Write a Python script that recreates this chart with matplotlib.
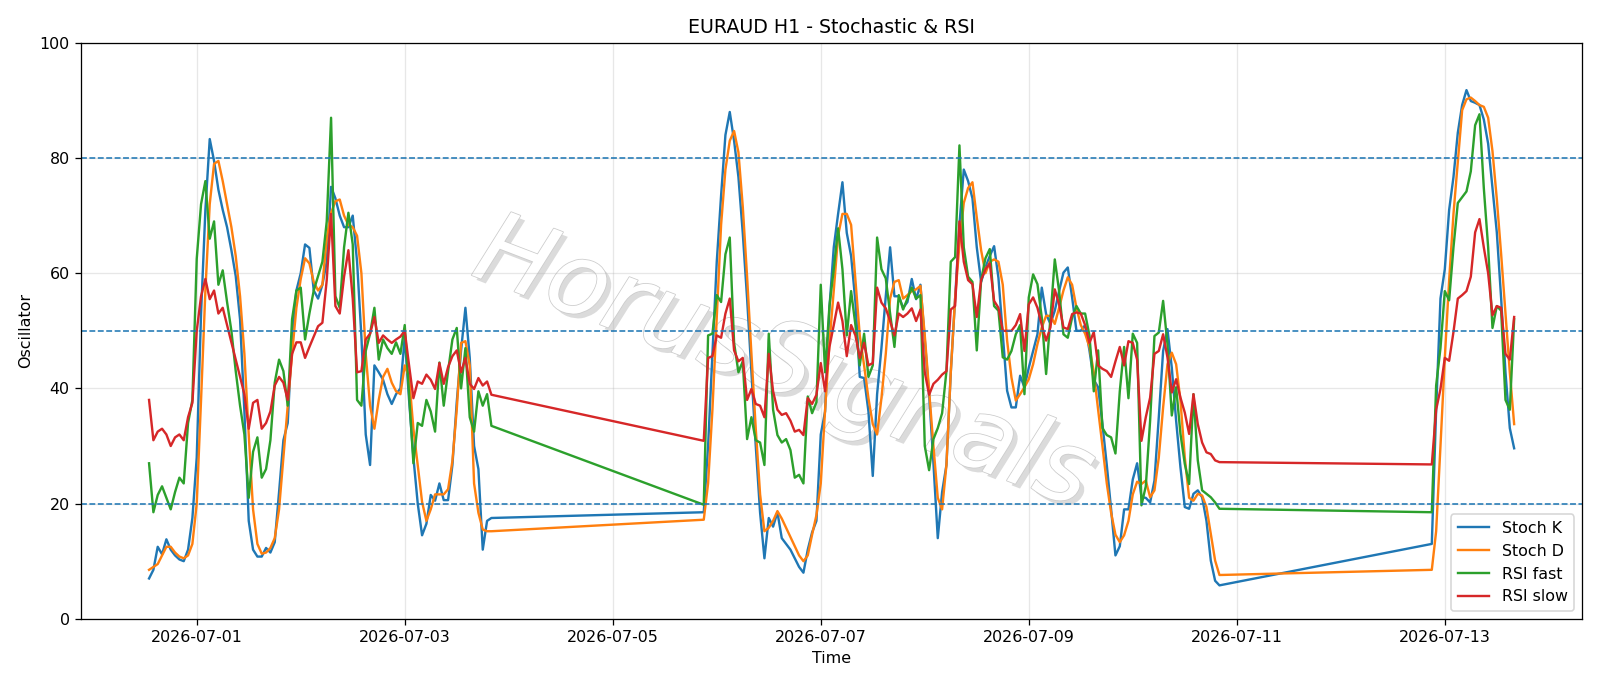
import matplotlib
matplotlib.use("Agg")
import numpy as np
import pandas as pd
import matplotlib.pyplot as plt
import matplotlib.dates as mdates
import matplotlib.patheffects as pe

# hourly bars, three trading blocks (weekend gaps in between)
times = (pd.date_range("2026-06-30 13:00", periods=80, freq="h")
         .append(pd.date_range("2026-07-05 21:00", periods=120, freq="h"))
         .append(pd.date_range("2026-07-12 21:00", periods=20, freq="h")))

stoch_k = [
    # block 1
    7, 8.5, 12.5, 11.2, 13.8, 12, 11, 10.3, 10, 12, 17.5,
    28, 53, 71, 83.3, 79.5, 74.5, 71, 68, 64, 59.5,
    52, 36, 17, 12, 10.8, 10.8, 12.3, 11.5, 13.3, 22,
    31, 34, 49, 57, 60, 65, 64.4, 57, 55.6, 58,
    62, 75, 73, 70, 68, 68, 70, 62, 49, 32,
    26.7, 44, 42.8, 41.5, 39, 37.3, 39, 40, 49, 38,
    28, 20, 14.5, 16.5, 21.5, 20.5, 23.5, 20.6, 20.6, 26.7,
    37.6, 46.6, 54, 45.3, 30, 26, 12, 17, 17.5,
    # block 2
    18.5, 30, 46, 62, 73.5, 84, 88, 83, 76.7, 67,
    55.6, 42.8, 30, 18.4, 10.5, 17.5, 16, 18.5, 14, 13,
    12, 10.5, 9, 8, 12, 15, 17, 32, 36, 54,
    64.5, 70.3, 75.8, 67, 63, 55, 42, 41.8, 36, 24.8,
    39, 47, 56, 64.5, 56, 56, 54, 55, 59, 55.5,
    58, 48.5, 39, 27, 14, 22, 26.7, 42.8, 55.6, 68.4,
    78, 76, 73, 64.5, 58.5, 61, 63, 64.7, 59.2, 49.4,
    39.6, 36.7, 36.7, 42.2, 40.2, 43.6, 46.5, 49.4, 57.5, 52.9,
    51.2, 53.5, 56.9, 60.1, 61, 55.8, 50, 50, 51, 46.6,
    41.5, 40.2, 33.8, 26.7, 19, 11, 12.6, 19, 19, 24.2,
    27, 21.1, 21, 20.2, 24, 35, 46.5, 50.3, 43.6, 34.4,
    26.3, 19.4, 19.1, 21.7, 22.3, 21.1, 17, 10.1, 6.6, 5.8,
    # block 3
    13, 36.3, 55.6, 60.7, 71, 76.7, 84.4, 89.2, 91.8, 89.9,
    89.6, 89.2, 86.7, 82.5, 74.8, 67.1, 55.6, 42.8, 33.1, 29.6,
]

stoch_d = [
    8.5, 9, 9.5, 11, 12.5, 12.5, 11.5, 10.8, 10.5, 11, 13,
    20, 38, 57, 72, 79, 79.5, 76, 72, 68, 63,
    56, 46, 32, 19, 13, 11.3, 11.5, 12.3, 14, 19,
    28, 37, 46, 54, 59, 62.6, 61.7, 58.5, 57, 58,
    66, 70.5, 72.5, 72.8, 70, 68.4, 68, 66.5, 60, 46,
    37, 33, 38, 42, 43.4, 41, 39.5, 39, 44, 42,
    33, 26.7, 20.3, 17, 19, 21.6, 21.6, 21.6, 22.5, 27.4,
    36.3, 47.9, 48.2, 44, 23.5, 18.4, 15.5, 15.2, 15.2,
    17.2, 23.5, 36.3, 52.4, 68.4, 78, 83, 84.7, 81, 71.6,
    59.4, 46, 33, 21.6, 15.2, 15.8, 17, 18.7, 17.4, 15.8,
    14.2, 12.6, 11, 10, 11, 14.6, 18, 23.5, 36.3, 47.9,
    57, 66.5, 70.3, 70.3, 68.4, 58.8, 49.2, 44, 38.3, 33.8,
    32, 38.3, 46, 55.6, 58.5, 58.8, 55.6, 56.2, 56.9, 57.2,
    57.8, 49.2, 39.5, 30, 21, 19, 26.7, 42.8, 55.6, 65,
    72.2, 74.8, 75.8, 69.7, 64, 60, 62, 62.4, 62, 58,
    48.3, 41.9, 37.9, 39, 40.2, 41.6, 44.2, 47.7, 50.6, 52.6,
    52.6, 51.2, 54, 57, 59.3, 58, 54, 51, 49.5, 47.2,
    42.8, 36.3, 30, 23.5, 18.4, 14.6, 13.3, 14.5, 17, 21.6,
    23.8, 23.4, 24, 21.1, 22.3, 28, 36.7, 44.2, 46.2, 44.2,
    37.9, 28, 21, 20.5, 21.7, 21.4, 19.4, 14.7, 10.1, 7.6,
    8.5, 15.2, 30, 45.3, 58.8, 70.3, 79.3, 88.3, 90.2, 90.5,
    89.9, 89.2, 88.9, 87, 81.2, 72.9, 63.3, 53, 42.8, 33.8,
]

rsi_fast = [
    27, 18.5, 21.5, 23, 21, 19, 22, 24.5, 23.5, 34, 38,
    62.5, 72, 76, 66, 69, 58, 60.5, 55, 50, 43,
    37, 32, 21, 29, 31.5, 24.5, 26, 31, 41, 45,
    43, 37, 52, 57, 57.5, 48.5, 53, 57, 59.5, 62,
    69, 87, 56, 54, 64.5, 70.5, 65, 38, 37, 46.5,
    49.5, 54, 45, 48.5, 47, 46, 48, 46, 51, 39,
    27, 34, 33.5, 38, 36, 32.5, 44.5, 37, 43, 48.5,
    50.5, 40, 47, 35, 32.5, 39.5, 37, 39, 33.5,
    19.8, 49.2, 49.5, 56.2, 55, 63.3, 66.2, 47.9, 42.8, 44.7,
    31.2, 35, 31, 30.6, 26.7, 49.5, 36.3, 31.9, 30.6, 31.2,
    29.3, 24.5, 25, 23.5, 38.6, 35.7, 37.6, 58, 42.8, 54.3,
    60.7, 67.8, 60.7, 49.2, 56.9, 51, 44, 49.5, 42, 44,
    66.2, 60.7, 59.1, 53, 47.2, 56.2, 53.7, 55.6, 57.5, 55.6,
    56.2, 30, 25.8, 31.2, 33.1, 35.7, 43, 62, 62.8, 82.2,
    64.5, 59.4, 58.5, 46.6, 58.8, 62.6, 64.2, 54.3, 53.5, 45.4,
    45, 46.5, 49.4, 51, 39, 55.8, 59.8, 58.1, 52.3, 42.5,
    52.3, 62.4, 56.9, 49.4, 48.8, 52.3, 54.3, 53, 53, 49.2,
    39.5, 46.6, 33.1, 31.9, 31.5, 28.7, 39.5, 47.2, 38.3, 49.5,
    47.9, 19.7, 23, 34.4, 49.1, 49.7, 55.2, 47.7, 35.3, 40.2,
    32.1, 26.9, 23.4, 39, 27.5, 22.3, 21.7, 21.1, 20.2, 19.1,
    18.5, 40.5, 47, 56.9, 55.3, 64.5, 72.2, 73.2, 74.2, 77.7,
    85.7, 87.6, 74.8, 64.5, 50.5, 54.3, 53.5, 38, 36.3, 52,
]

rsi_slow = [
    38, 31, 32.5, 33, 32, 30, 31.5, 32, 31, 35, 37.5,
    50, 56, 59, 55.5, 57, 53, 54, 51, 48, 45,
    42, 39, 33, 37.5, 38, 33, 34, 36, 40.5, 42,
    41, 38, 46, 48, 48, 45.3, 47.2, 49, 50.8, 51.4,
    58.8, 70.3, 54.3, 53, 59.4, 64, 55.6, 42.8, 43, 48.5,
    49.5, 52.4, 47.9, 49.2, 48.5, 47.9, 48.5, 49, 50, 44,
    38.3, 41.2, 40.8, 42.4, 41.5, 39.9, 44.4, 40.8, 43.7, 45.6,
    46.6, 42.8, 45.3, 40.8, 39.9, 41.8, 40.5, 41.2, 38.9,
    30.9, 45.3, 45.6, 49.2, 48.8, 53, 55.6, 46.6, 44.7, 45.3,
    38, 39.9, 37.3, 37, 35, 46, 39.5, 36.3, 35.4, 35.7,
    34.4, 32.5, 32.8, 31.9, 38.3, 37.3, 38.9, 44.4, 39.5, 47.2,
    51, 54.9, 51.7, 45.6, 51, 49.2, 45.3, 47.9, 44, 44.4,
    57.5, 54.9, 53.9, 51.7, 49.2, 53, 52.4, 53, 53.9, 51.7,
    53.7, 42.8, 38.9, 40.8, 41.5, 42.4, 43, 53.7, 54.3, 69,
    62, 58.8, 58.1, 52.4, 58.8, 60.7, 61.7, 55.2, 54, 50,
    50, 50, 51, 52.9, 46.5, 54.6, 55.8, 54, 51, 48.3,
    50.6, 57.2, 54.6, 50.6, 50.3, 52.9, 53.2, 53, 51, 47.9,
    49.8, 44, 43.4, 43, 42, 44.7, 47.2, 44, 48.2, 47.9,
    45, 30.9, 35, 38.4, 46, 46.5, 49.4, 45.4, 39.3, 41.6,
    38.4, 35.8, 32.1, 39, 33.8, 30.6, 28.9, 28.6, 27.5, 27.2,
    26.8, 36.3, 39.9, 45.3, 44.8, 49.8, 55.6, 56.2, 56.9, 59.4,
    67.1, 69.4, 64.5, 60, 52.7, 54.3, 54, 46, 45, 52.4,
]

levels = [20, 50, 80]

fig, ax = plt.subplots(figsize=(14, 6.0025), dpi=1600 / 14)
fig.subplots_adjust(left=0.0505, right=0.989, top=0.9375, bottom=0.098)

# watermark behind the lines
ax.text(0.468, 0.44, "HorusSignals", transform=ax.transAxes, fontsize=63,
        rotation=-21, ha="center", va="center", style="italic", color="white",
        zorder=0,
        path_effects=[pe.SimplePatchShadow(offset=(3, -3), shadow_rgbFace=(0.6, 0.6, 0.6), alpha=0.35),
                      pe.Stroke(linewidth=1.0, foreground=(0.8, 0.8, 0.8)),
                      pe.Normal()])

ax.plot(times, stoch_k, label="Stoch K", color="tab:blue", lw=1.5)
ax.plot(times, stoch_d, label="Stoch D", color="tab:orange", lw=1.5)
ax.plot(times, rsi_fast, label="RSI fast", color="tab:green", lw=1.5)
ax.plot(times, rsi_slow, label="RSI slow", color="tab:red", lw=1.5)

for lv in levels:
    ax.axhline(lv, color="tab:blue", linestyle="--", linewidth=1)

ax.set_ylim(0, 100)
ax.set_xticks(pd.date_range("2026-07-01", "2026-07-13", freq="2D"))
ax.xaxis.set_major_formatter(mdates.DateFormatter("%Y-%m-%d"))
ax.grid(True, alpha=0.3)
ax.set_title("EURAUD H1 - Stochastic & RSI")
ax.set_xlabel("Time")
ax.set_ylabel("Oscillator")
ax.legend(loc="lower right")

plt.savefig("out.png")
